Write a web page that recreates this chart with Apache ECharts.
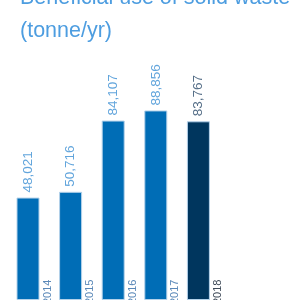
<!DOCTYPE html>
<html>
<head>
<meta charset="utf-8">
<script src="https://cdn.jsdelivr.net/npm/echarts@6/dist/echarts.min.js"></script>
<style>
html,body{margin:0;padding:0;background:#fff;}
#c{width:300px;height:300px;}
</style>
</head>
<body>
<div id="c"></div>
<script>
var categories = ['2014', '2015', '2016', '2017', '2018'];
var values = [48021, 50716, 84107, 88856, 83767];
var titleText = 'Beneficial use of solid waste\n(tonne/yr)';

var barColors = ['#006db6', '#006db6', '#006db6', '#006db6', '#00365e'];
var valueLabelColors = ['#62a5dc', '#62a5dc', '#62a5dc', '#62a5dc', '#566f88'];
var yearLabelColors = ['#5a88b8', '#5a88b8', '#5a88b8', '#5a88b8', '#3e4a58'];

var chart = echarts.init(document.getElementById('c'), null, {renderer: 'canvas'});

var mainData = values.map(function (v, i) {
  return {
    value: v,
    itemStyle: {color: barColors[i]},
    label: {color: valueLabelColors[i]}
  };
});
var yearData = values.map(function (v, i) {
  return {
    value: v,
    label: {color: yearLabelColors[i]}
  };
});

chart.setOption({
  animation: false,
  title: {
    text: titleText,
    left: 15,
    top: -23,
    textStyle: {
      color: '#4d9de0',
      fontFamily: 'Liberation Sans',
      fontSize: 21.5,
      fontWeight: 'normal',
      lineHeight: 33
    }
  },
  grid: {left: 6.7, right: 80.3, top: 44, bottom: -2.5, containLabel: false},
  xAxis: {
    type: 'category',
    data: categories,
    axisLine: {show: false},
    axisTick: {show: false},
    axisLabel: {show: false},
    splitLine: {show: false}
  },
  yAxis: {
    type: 'value',
    min: 0,
    max: 120000,
    show: false,
    splitLine: {show: false}
  },
  series: [
    {
      type: 'bar',
      data: mainData,
      barWidth: 23,
      itemStyle: {borderColor: '#b4d2ea', borderWidth: 1},
      label: {
        show: true,
        position: 'top',
        distance: 5,
        rotate: 90,
        align: 'left',
        verticalAlign: 'middle',
        fontFamily: 'Liberation Sans',
        fontSize: 13.5,
        formatter: function (p) { return p.value.toLocaleString('en-US'); }
      }
    },
    {
      type: 'bar',
      data: yearData,
      barWidth: 23,
      barGap: '-100%',
      itemStyle: {color: 'rgba(0,0,0,0)'},
      silent: true,
      label: {
        show: true,
        position: ['135%', '100%'],
        offset: [-4, 0],
        rotate: 90,
        align: 'left',
        verticalAlign: 'middle',
        fontFamily: 'Liberation Sans',
        fontSize: 11,
        formatter: '{b}'
      }
    }
  ]
});
</script>
</body>
</html>
